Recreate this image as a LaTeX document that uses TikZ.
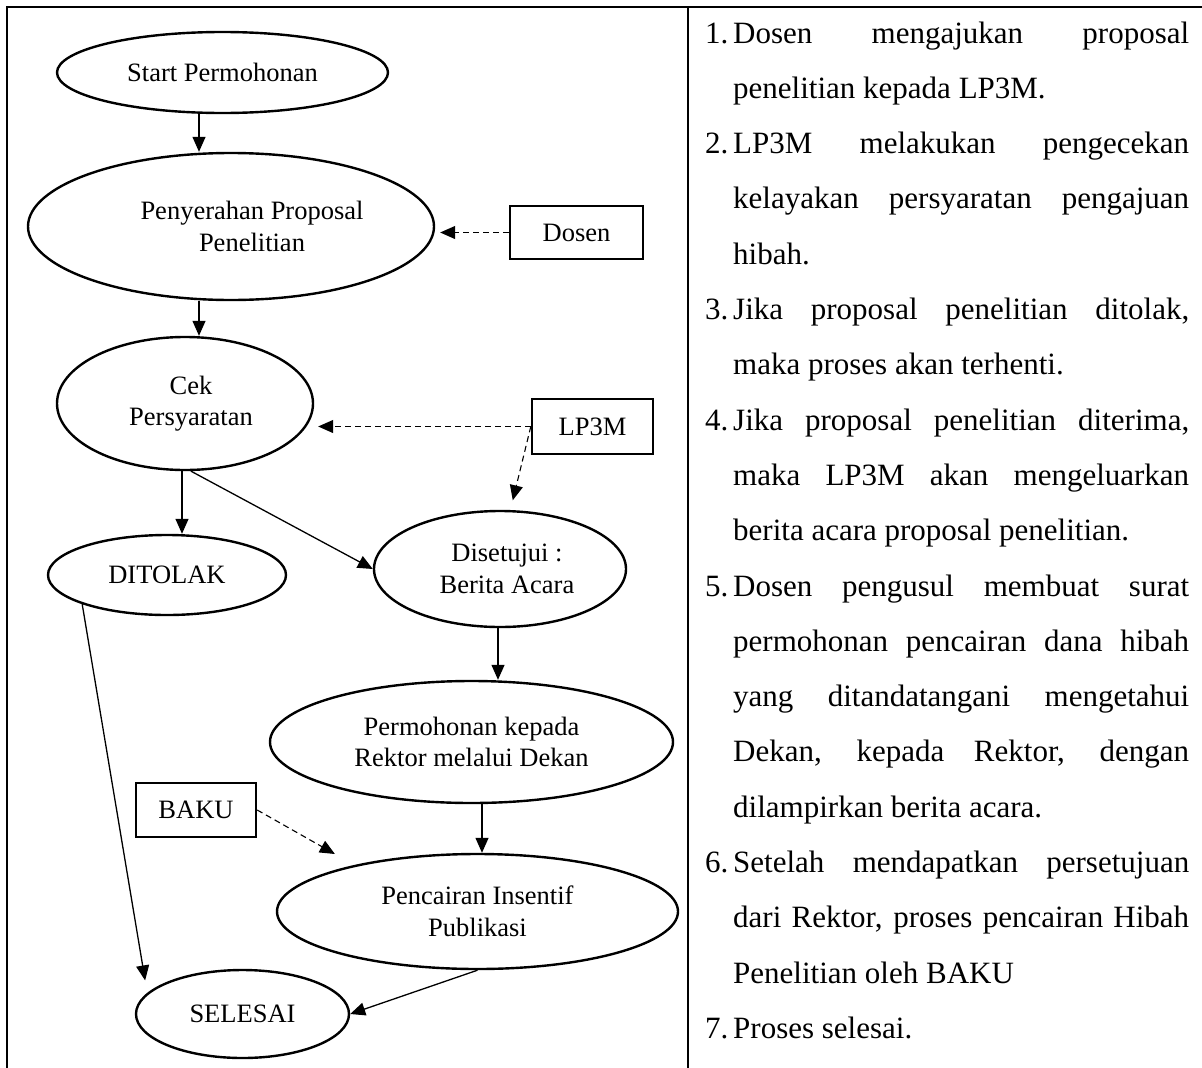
\documentclass[tikz,border=0pt]{standalone}
\usepackage{fontspec}
\setmainfont{Liberation Serif}
\usetikzlibrary{shapes.geometric,arrows.meta,calc}
\newcommand{\numitem}[1]{\noindent\hangindent=28pt\hangafter=1\makebox[28pt][l]{#1}}

\begin{document}
\begin{tikzpicture}[x=1pt,y=-1pt,
    proc/.style={ellipse,draw,line width=2.4pt,inner sep=0pt,align=center,font={\fontsize{26.5pt}{31.5pt}\selectfont}},
    actor/.style={rectangle,draw,line width=2.4pt,inner sep=0pt,font={\fontsize{26.5pt}{31.5pt}\selectfont}},
    flow/.style={-{Triangle[length=15pt,width=13pt]},line width=1.3pt},
    aside/.style={flow,line width=1.1pt,dash pattern=on 6pt off 4pt}]
    \useasboundingbox (0,0) rectangle (1202,1068);
    \draw[line width=2pt] (1202,7) -- (7,7) -- (7,1068);
    \draw[line width=2pt] (688,7) -- (688,1068);

    \node[proc,minimum width=331pt,minimum height=81pt] (start) at (222.5,72.5) {Start Permohonan};
    \node[proc,minimum width=406pt,minimum height=147pt] (prop) at (231,226.5) {\hspace*{42pt}Penyerahan Proposal\\\hspace*{42pt}Penelitian};
    \node[actor,minimum width=133pt,minimum height=53pt] (dosen) at (576.5,232.5) {Dosen};
    \node[proc,minimum width=256pt,minimum height=133pt] (cek) at (185,403.5) {\hspace*{12pt}Cek\\\hspace*{12pt}Persyaratan};
    \node[actor,minimum width=121pt,minimum height=55pt] (lp3m) at (592.5,426.5) {LP3M};
    \node[proc,minimum width=238pt,minimum height=80pt] (tolak) at (167,575) {DITOLAK};
    \node[proc,minimum width=252pt,minimum height=116pt] (setuju) at (500,569) {\hspace*{14pt}Disetujui :\\\hspace*{14pt}Berita Acara};
    \node[proc,minimum width=403pt,minimum height=122pt] (mohon) at (471.5,742) {Permohonan kepada\\Rektor melalui Dekan};
    \node[actor,minimum width=120pt,minimum height=54pt] (baku) at (196,810) {BAKU};
    \node[proc,minimum width=401pt,minimum height=115pt] (cair) at (477.5,911.5) {Pencairan Insentif\\Publikasi};
    \node[proc,minimum width=213pt,minimum height=88pt] (selesai) at (242.5,1014) {SELESAI};

    \coordinate (colA) at (199,0);
    \coordinate (colB) at (182,0);
    \coordinate (colC) at (498,0);
    \coordinate (colD) at (482,0);

    \draw[flow] (start.south -| colA) -- (prop.north -| colA);
    \draw[flow] (prop.south -| colA) -- (cek.north -| colA);
    \draw[flow] (cek.south -| colB) -- (tolak.north -| colB);
    \draw[flow] (cek.275) -- (setuju.west);
    \draw[flow] (setuju.south -| colC) -- (mohon.north -| colC);
    \draw[flow] (mohon.south -| colD) -- (cair.north -| colD);
    \draw[flow] (tolak.199) -- ($(selesai.160)+(-16,-4)$);
    \draw[flow] (cair.south) -- (selesai.east);

    \draw[aside,shorten >=5pt] (dosen.west) -- (dosen.west -| prop.east);
    \draw[aside,shorten >=4pt] (lp3m.west) -- (lp3m.west -| cek.east);
    \draw[aside,shorten >=10pt] (lp3m.west) -- (setuju.80);
    \draw[aside] (baku.east) -- ($(cair.north west)+(0,-16)$);

    \node[anchor=base west,inner sep=0pt,text width=484pt,align=justify,font={\fontsize{31pt}{55.3pt}\selectfont}] (steps) at (705,43) {%
      \tolerance=10000\hyphenpenalty=10000\exhyphenpenalty=10000
      \numitem{1.}Dosen mengajukan proposal\linebreak penelitian kepada LP3M.\par
      \numitem{2.}LP3M melakukan pengecekan\linebreak kelayakan persyaratan pengajuan\linebreak hibah.\par
      \numitem{3.}Jika proposal penelitian ditolak,\linebreak maka proses akan terhenti.\par
      \numitem{4.}Jika proposal penelitian diterima,\linebreak maka LP3M akan mengeluarkan\linebreak berita acara proposal penelitian.\par
      \numitem{5.}Dosen pengusul membuat surat\linebreak permohonan pencairan dana hibah\linebreak yang ditandatangani mengetahui\linebreak Dekan, kepada Rektor, dengan\linebreak dilampirkan berita acara.\par
      \numitem{6.}Setelah mendapatkan persetujuan\linebreak dari Rektor, proses pencairan Hibah\linebreak Penelitian oleh BAKU\par
      \numitem{7.}Proses selesai.\par};
\end{tikzpicture}
\end{document}
